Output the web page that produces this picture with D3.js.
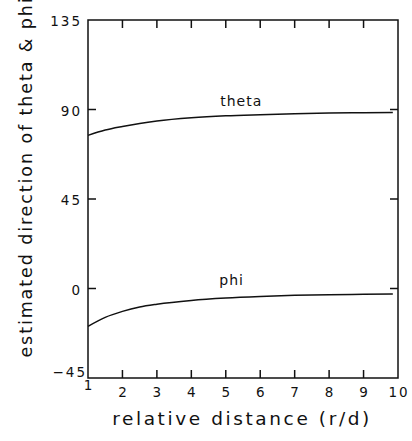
<!DOCTYPE html>
<html>
<head>
<meta charset="utf-8">
<script src="https://cdn.jsdelivr.net/npm/d3@7"></script>
<style>
  body { margin: 0; background: #fff; }
  text { font-family: "DejaVu Sans", sans-serif; fill: #111; }
</style>
</head>
<body>
<svg class="chart"></svg>
<script>
  const width = 412;
  const height = 441;

  // relative distance r/d
  const distance = [1, 1.5, 2, 2.5, 3, 4, 5, 6, 7, 8, 9, 9.85];
  const theta = [77, 79.7, 81.5, 83, 84.2, 85.8, 86.8, 87.4, 87.9, 88.2, 88.4, 88.5];
  const phi = [-19, -14.5, -11.5, -9.3, -7.9, -6, -4.8, -4, -3.4, -3.1, -2.9, -2.8];
  const xTicks = [1, 2, 3, 4, 5, 6, 7, 8, 9, 10];
  const yTicks = [-45, 0, 45, 90, 135];

  const margin = { top: 20, right: 14, bottom: 63, left: 88 };
  const svg = d3.select('.chart').attr('width', width).attr('height', height);

  const x = d3.scaleLinear().domain([1, 10]).range([margin.left, width - margin.right]);
  const y = d3.scaleLinear().domain([-45, 135]).range([height - margin.bottom, margin.top]);

  const tickLen = 8;
  const plotLeft = x(1), plotRight = x(10), plotBottom = y(-45), plotTop = y(135);

  // frame
  svg.append('rect')
    .attr('x', plotLeft).attr('y', plotTop)
    .attr('width', plotRight - plotLeft).attr('height', plotBottom - plotTop)
    .attr('fill', 'none').attr('stroke', '#111').attr('stroke-width', 1.5);

  // inward ticks on all four sides
  const innerX = xTicks.slice(1, -1);
  const innerY = yTicks.slice(1, -1);
  svg.selectAll('line.xbot').data(innerX).enter().append('line').attr('class', 'xbot')
    .attr('x1', d => x(d)).attr('x2', d => x(d)).attr('y1', plotBottom).attr('y2', plotBottom - tickLen)
    .attr('stroke', '#111').attr('stroke-width', 1.5);
  svg.selectAll('line.xtop').data(innerX).enter().append('line').attr('class', 'xtop')
    .attr('x1', d => x(d)).attr('x2', d => x(d)).attr('y1', plotTop).attr('y2', plotTop + tickLen)
    .attr('stroke', '#111').attr('stroke-width', 1.5);
  svg.selectAll('line.yleft').data(innerY).enter().append('line').attr('class', 'yleft')
    .attr('x1', plotLeft).attr('x2', plotLeft + tickLen).attr('y1', d => y(d)).attr('y2', d => y(d))
    .attr('stroke', '#111').attr('stroke-width', 1.5);
  svg.selectAll('line.yright').data(innerY).enter().append('line').attr('class', 'yright')
    .attr('x1', plotRight).attr('x2', plotRight - tickLen).attr('y1', d => y(d)).attr('y2', d => y(d))
    .attr('stroke', '#111').attr('stroke-width', 1.5);

  // tick labels
  svg.append('g').selectAll('text')
    .data(xTicks).enter().append('text')
    .attr('x', d => x(d) + 1)
    .attr('y', d => d === 1 ? plotBottom + 12 : plotBottom + 19)
    .attr('text-anchor', 'middle')
    .style('font-size', '13.5px').style('letter-spacing', '2px')
    .text(d => d);
  svg.append('g').selectAll('text')
    .data(yTicks).enter().append('text')
    .attr('x', d => d === -45 ? plotLeft - 1 : plotLeft - 6)
    .attr('y', d => d === -45 ? y(d) - 1 : y(d) + 6)
    .attr('text-anchor', 'end')
    .style('font-size', '13.5px').style('letter-spacing', '2px')
    .text(d => d === -45 ? '\u221245' : d);

  // curves
  const line = d3.line().curve(d3.curveMonotoneX);
  const series = [theta, phi];
  svg.append('g').selectAll('path')
    .data(series).enter().append('path')
    .attr('d', s => line(distance.map((d, i) => [x(d), y(s[i])])))
    .attr('fill', 'none').attr('stroke', '#111').attr('stroke-width', 1.5);

  // curve labels
  svg.append('text').attr('x', x(5.45)).attr('y', y(91.8)).attr('text-anchor', 'middle')
    .style('font-size', '14px').style('letter-spacing', '1px').text('theta');
  svg.append('text').attr('x', x(5.17)).attr('y', y(1.8)).attr('text-anchor', 'middle')
    .style('font-size', '14px').style('letter-spacing', '1px').text('phi');

  // axis titles
  svg.append('text')
    .attr('x', 242).attr('y', 425)
    .attr('text-anchor', 'middle')
    .style('font-size', '18.5px').style('letter-spacing', '2.6px')
    .text('relative distance (r/d)');
  svg.append('text')
    .attr('transform', 'translate(32,177) rotate(-90)')
    .attr('text-anchor', 'middle')
    .style('font-size', '17.5px').style('letter-spacing', '1.9px')
    .text('estimated direction of theta & phi');
</script>
</body>
</html>
